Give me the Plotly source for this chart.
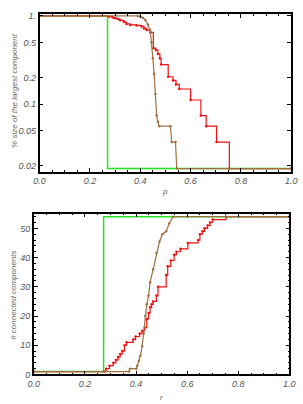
import plotly.graph_objects as go

# ---- data: top panel (largest component fraction vs p) ----
green_top_x = [0, 0.27, 1.0]
green_top_y = [1, 0.0185, 0.0185]

red_top_x = [0, 0.275, 0.29, 0.30, 0.31, 0.32, 0.335, 0.345, 0.36, 0.385, 0.405, 0.415, 0.425,
             0.44, 0.452, 0.462, 0.47, 0.478, 0.483, 0.511, 0.53, 0.542, 0.555, 0.60, 0.641,
             0.662, 0.703, 0.754, 1.0]
red_top_y = [1, 0.98, 0.96, 0.94, 0.92, 0.89, 0.85, 0.81, 0.79, 0.78, 0.76, 0.72, 0.69,
             0.65, 0.43, 0.41, 0.37, 0.33, 0.28, 0.204, 0.185, 0.167, 0.148, 0.111, 0.074,
             0.056, 0.037, 0.0185, 0.0185]

brown_top_x = [0, 0.39, 0.40, 0.41, 0.42, 0.43, 0.44, 0.445, 0.45, 0.455, 0.46, 0.465, 0.47,
               0.475, 0.52, 0.525, 0.54, 0.545, 1.0]
brown_top_y = [1, 1, 0.98, 0.95, 0.9, 0.8, 0.68, 0.5, 0.33, 0.22, 0.13, 0.074, 0.063,
               0.056, 0.056, 0.037, 0.037, 0.0185, 0.0185]

# ---- data: bottom panel (number of connected components vs r) ----
green_bot_x = [0, 0.273, 1.0]
green_bot_y = [1, 54, 54]

red_bot_x = [0, 0.276, 0.283, 0.296, 0.311, 0.321, 0.33, 0.338, 0.346, 0.355, 0.363, 0.389,
             0.398, 0.414, 0.424, 0.434, 0.442, 0.449, 0.455, 0.461, 0.467, 0.48, 0.486,
             0.518, 0.524, 0.536, 0.549, 0.558, 0.574, 0.603, 0.643, 0.65, 0.66, 0.668,
             0.68, 0.69, 0.70, 0.752, 1.0]
red_bot_y = [1, 1, 2, 3, 4, 5, 6, 7, 8, 10, 11, 12, 13, 14, 15, 16, 19, 21, 23, 24, 25, 27,
             30, 34, 37, 39, 41, 42, 43, 45, 46, 48, 49, 50, 51, 52, 53, 54, 54]

brown_bot_x = [0, 0.373, 0.376, 0.401, 0.405, 0.411, 0.417, 0.424, 0.43, 0.436, 0.442, 0.449,
               0.455, 0.467, 0.48, 0.492, 0.503, 0.518, 0.53, 0.545, 1.0]
brown_bot_y = [1, 1, 2, 2, 3, 4.7, 6.4, 9.7, 14, 20, 24, 27, 31.5, 36, 41.6, 45.5, 48, 49,
               51.7, 54, 54]

x_ticks = [0.0, 0.2, 0.4, 0.6, 0.8, 1.0]
x_ticktext = ["0.0", "0.2", "0.4", "0.6", "0.8", "1.0"]
top_yticks = [0.02, 0.05, 0.1, 0.2, 0.5, 1]
top_yticktext = ["0.02", "0.05", "0.1", "0.2", "0.5", "1."]
bot_yticks = [0, 10, 20, 30, 40, 50]

GREEN = "#22e622"
RED = "#ee1111"
BROWN = "#a07040"

fig = go.Figure()

def add(x, y, color, xa, ya, shape, marker=True, width=1.2):
    fig.add_trace(go.Scatter(
        x=x, y=y, xaxis=xa, yaxis=ya,
        mode="lines+markers" if marker else "lines",
        line=dict(color=color, width=width, shape=shape),
        marker=dict(size=2.5, color=color),
        showlegend=False, hoverinfo="skip"))

add(green_top_x, green_top_y, GREEN, "x", "y", "hv", marker=False, width=1.5)
add(red_top_x, red_top_y, RED, "x", "y", "hv")
add(brown_top_x, brown_top_y, BROWN, "x", "y", "linear")

add(green_bot_x, green_bot_y, GREEN, "x2", "y2", "hv", marker=False, width=1.5)
add(red_bot_x, red_bot_y, RED, "x2", "y2", "hv")
add(brown_bot_x, brown_bot_y, BROWN, "x2", "y2", "linear")

W, H = 303, 404
tickfont = dict(family="Liberation Sans", size=9, color="#555555", style="italic")

axis_common = dict(
    showline=True, linecolor="black", linewidth=1.5, mirror="allticks",
    ticks="inside", ticklen=4, tickwidth=1, tickcolor="black",
    showgrid=False, zeroline=False, tickfont=tickfont,
)

fig.update_layout(
    width=W, height=H,
    margin=dict(l=0, r=0, t=0, b=0),
    paper_bgcolor="white", plot_bgcolor="white",
    xaxis=dict(axis_common, domain=[35 / W, 297 / W], range=[0, 1], anchor="y",
               tickvals=x_ticks, ticktext=x_ticktext,
               minor=dict(dtick=0.05, ticklen=2, tickcolor="black", ticks="inside")),
    yaxis=dict(axis_common, domain=[1 - 172 / H, 1 - 11 / H], type="log",
               range=[-1.767, 0.024], anchor="x",
               tickvals=top_yticks, ticktext=top_yticktext),
    xaxis2=dict(axis_common, domain=[29 / W, 295 / W], range=[0, 1], anchor="y2",
                tickvals=x_ticks, ticktext=x_ticktext,
                minor=dict(dtick=0.05, ticklen=2, tickcolor="black", ticks="inside")),
    yaxis2=dict(axis_common, domain=[1 - 379 / H, 1 - 215 / H], range=[0, 55], anchor="x2",
                tickvals=bot_yticks,
                minor=dict(dtick=2, ticklen=2, tickcolor="black", ticks="inside")),
)

title_font = dict(family="Liberation Sans", size=8, color="#666666", style="italic")
fig.add_annotation(text="p", x=166 / W, y=1 - 192 / H, xref="paper", yref="paper",
                   xanchor="center", yanchor="middle",
                   showarrow=False, font=title_font)
fig.add_annotation(text="r", x=162 / W, y=1 - 402 / H, xref="paper", yref="paper",
                   xanchor="center", yanchor="middle",
                   showarrow=False, font=title_font)
fig.add_annotation(text="% size of the largest component", x=9 / W, y=1 - 89 / H,
                   xref="paper", yref="paper", showarrow=False, textangle=-90,
                   xanchor="center", yanchor="middle", font=title_font)
fig.add_annotation(text="# connected components", x=7 / W, y=1 - 298 / H,
                   xref="paper", yref="paper", showarrow=False, textangle=-90,
                   xanchor="center", yanchor="middle", font=title_font)

fig.write_html("out.html")
